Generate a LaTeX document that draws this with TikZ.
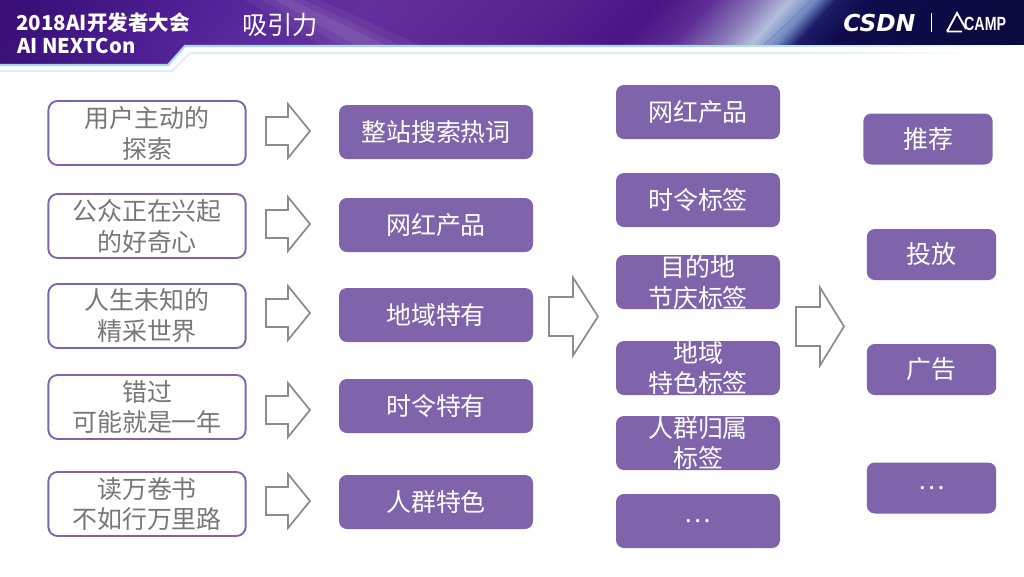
\documentclass[tikz,border=0pt]{standalone}
\usepackage{fontspec}
\setmainfont{Noto Sans CJK SC}
\newfontfamily\latinhead{Liberation Sans}
\newfontfamily\logofont{DejaVu Sans}
\definecolor{boxpurple}{HTML}{8064AB}
\definecolor{graytext}{HTML}{777777}
\definecolor{linegray}{HTML}{8C8C8C}
\definecolor{lineblue}{HTML}{A6DAE6}
\definecolor{linepale}{HTML}{DDEFF4}
\definecolor{streak}{HTML}{7882C8}
\definecolor{hsa}{HTML}{3A1078}
\definecolor{hsb}{HTML}{522298}
\definecolor{hsc}{HTML}{5A2B9C}
\definecolor{hsd}{HTML}{62309C}
\definecolor{hsf}{HTML}{5A2392}
\definecolor{hsg}{HTML}{4A1585}
\definecolor{hsh}{HTML}{5C2C94}
\definecolor{hsi}{HTML}{8A7CBA}
\definecolor{hsj}{HTML}{B4BEDC}
\definecolor{hsk}{HTML}{6F86C0}
\definecolor{hsl}{HTML}{1C1C68}
\definecolor{hsm}{HTML}{0E0C4C}
\definecolor{hsn}{HTML}{0A0A3C}
\pgfdeclarehorizontalshading{headshade}{100bp}{
 color(0bp)=(hsa);
 color(27.27bp)=(hsa);
 color(35bp)=(hsb);
 color(38.18bp)=(hsc);
 color(42.27bp)=(hsd);
 color(50bp)=(hsf);
 color(55.45bp)=(hsg);
 color(57.73bp)=(hsh);
 color(60bp)=(hsi);
 color(61.36bp)=(hsj);
 color(62.5bp)=(hsk);
 color(63.41bp)=(hsl);
 color(65bp)=(hsm);
 color(73.82bp)=(hsn);
 color(100bp)=(hsn)}
\tikzset{
 x=0.75pt,y=-0.75pt,
 outline/.style={draw=boxpurple,line width=1.4pt,fill=white,rounded corners=7pt,text=graytext,
   font=\fontsize{18.7pt}{23.2pt}\selectfont,align=center,inner sep=0pt,minimum height=48pt,minimum width=148pt},
 solid box/.style={draw=none,fill=boxpurple,rounded corners=6pt,text=white,
   font=\fontsize{18.7pt}{23.2pt}\selectfont,align=center,inner sep=0pt,minimum height=40.5pt},
 midbox/.style={solid box,minimum width=145.5pt},
 tagbox/.style={solid box,minimum width=123pt},
 endbox/.style={solid box,minimum width=97pt,minimum height=38.25pt},
 blockarrow/.style={draw=linegray,line width=1.3pt,fill=white,line join=miter},
 headtext/.style={text=white,inner sep=0pt,anchor=west},
}
% left x, head x, tip x, centre y, half shaft, half head
\newcommand{\blockarr}[6]{\draw[blockarrow] (#1,#4-#5)--(#2,#4-#5)--(#2,#4-#6)--(#3,#4)--(#2,#4+#6)--(#2,#4+#5)--(#1,#4+#5)--cycle;}
\begin{document}
\begin{tikzpicture}
\useasboundingbox (0,0) rectangle (1024,576);
\fill[white] (0,0) rectangle (1024,576);
% header
\begin{scope}
\clip (0,0)--(1024,0)--(1024,45)--(185,45)--(168,64)--(0,64)--cycle;
\foreach \r in {0,1,...,46}{
  \pgfmathsetmacro{\s}{(45-\r)*0.9}
  \shade[shading=headshade] (-50+\s,\r) rectangle (1050+\s,64);
}
\fill[white,opacity=.05] (245,0)--(320,0)--(420,45)--(320,45)--cycle;
\fill[white,opacity=.06] (262,0)--(304,0)--(400,45)--(340,45)--cycle;
\fill[white,opacity=.07] (275,0)--(292,0)--(385,45)--(355,45)--cycle;
\draw[streak,line width=.7pt] (764,45)--(812,0);
\end{scope}
\draw[lineblue,line width=1.6pt] (0,65)--(168,65)--(185,46)--(700,46);
\shade[left color=lineblue,right color=white] (700,45.2) rectangle (1024,46.8);
\draw[linepale,line width=1.5pt] (0,71)--(172,71)--(190,53)--(800,53);
\shade[left color=linepale,right color=white] (800,52.2) rectangle (990,53.8);
\node[headtext,font=\bfseries\fontsize{15.4pt}{18pt}\selectfont] (conf) at (16,23) {2018AI开发者大会};
\node[headtext,font=\bfseries\fontsize{15.2pt}{18pt}\selectfont] (next) at (17,46) {AI NEXTCon};
\node[headtext,font=\fontsize{19pt}{22pt}\selectfont] (title) at (242,25) {吸引力};
\node[headtext,font=\logofont\bfseries\itshape\fontsize{17.5pt}{20pt}\selectfont] (csdn) at (843,23) {CSDN};
\fill[white] (931,12.5) rectangle (931.8,32);
\draw[white,line width=1.4pt,line join=miter] (947,31.5)--(957,13)--(966,29) (947,31.5)--(962,31.5);
\node[headtext,font=\latinhead\bfseries,xscale=.82,yscale=1.1] (camp) at (964,24) {\fontsize{13pt}{15pt}\selectfont CAMP};
% left column
\node[outline] (a1) at (147,133) {用户主动的\\探索};
\node[outline] (a2) at (147,226) {公众正在兴起\\的好奇心};
\node[outline] (a3) at (147,316) {人生未知的\\精采世界};
\node[outline] (a4) at (147,407) {错过\\可能就是一年};
\node[outline] (a5) at (147,504) {读万卷书\\不如行万里路};
% arrows
\blockarr{266}{288}{310}{131}{14}{27}
\blockarr{266}{288}{310}{224}{14}{27}
\blockarr{266}{288}{310}{313}{14}{27}
\blockarr{266}{288}{310}{410}{14}{27}
\blockarr{266}{288}{310}{501}{14}{27}
\blockarr{549}{573}{598}{316.5}{19.5}{39}
\blockarr{796}{820}{844}{326.5}{19.5}{39}
% middle column
\node[midbox] (b1) at (436,132) {整站搜索热词};
\node[midbox] (b2) at (436,225) {网红产品};
\node[midbox] (b3) at (436,315) {地域特有};
\node[midbox] (b4) at (436,406) {时令特有};
\node[midbox] (b5) at (436,502) {人群特色};
% tag column
\node[tagbox] (c1) at (698,112) {网红产品};
\node[tagbox] (c2) at (698,200) {时令标签};
\node[tagbox] (c3) at (698,282) {目的地\\节庆标签};
\node[tagbox] (c4) at (698,368) {地域\\特色标签};
\node[tagbox] (c5) at (698,443) {人群归属\\标签};
\node[tagbox] (c6) at (698,521) {…};
% end column
\node[endbox] (d1) at (928,139) {推荐};
\node[endbox] (d2) at (931.5,254.5) {投放};
\node[endbox] (d3) at (931.5,369.5) {广告};
\node[endbox] (d4) at (931.5,488) {…};
\end{tikzpicture}
\end{document}
